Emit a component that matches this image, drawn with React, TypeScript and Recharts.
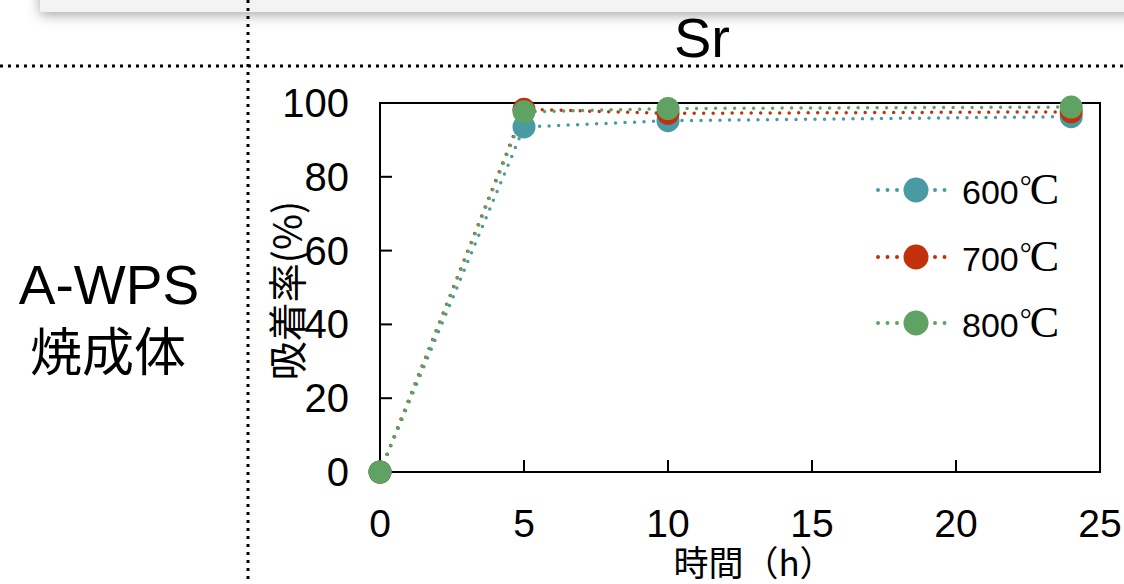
import React from "react";
import { LineChart, Line, XAxis, YAxis, ReferenceArea, Legend } from "recharts";

// adsorption rate (%) of Sr over time, A-WPS fired at 3 temperatures
const hours = [0, 5, 10, 24];
const rate600 = [0, 93.5, 95.2, 96.3];
const rate700 = [0, 98.3, 97.2, 97.6];
const rate800 = [0, 97.6, 98.5, 98.9];
const seriesNames = ["600℃", "700℃", "800℃"];
const seriesColors = ["#4a9aa4", "#c3300c", "#5fa263"];
const xTicks = [0, 5, 10, 15, 20, 25];
const yTicks = [0, 20, 40, 60, 80, 100];

const data = hours.map((t, i) => ({
  t,
  s600: rate600[i],
  s700: rate700[i],
  s800: rate800[i],
}));

const sans = '"Liberation Sans", Arial, sans-serif';
const serif = '"Liberation Serif", "Times New Roman", serif';
const cjk = '"Noto Sans CJK JP", "Liberation Sans", sans-serif';

const XTick = (props: any) => {
  const { x, y, payload } = props;
  const v = payload.value;
  return (
    <g>
      {v !== 0 && v !== 25 && (
        <line x1={x} y1={y} x2={x} y2={y - 12} stroke="#000" strokeWidth={2} />
      )}
      <text x={x} y={y + 65} textAnchor="middle" fontSize={39} fontFamily={sans} fill="#000">
        {v}
      </text>
    </g>
  );
};

const YTick = (props: any) => {
  const { x, y, payload } = props;
  const v = payload.value;
  return (
    <g>
      {v !== 0 && v !== 100 && (
        <line x1={x} y1={y} x2={x + 12} y2={y} stroke="#000" strokeWidth={2} />
      )}
      <text x={x - 31} y={y + 14} textAnchor="end" fontSize={40} fontFamily={sans} fill="#000">
        {v}
      </text>
    </g>
  );
};

const LegendBox = ({ payload }: any) => (
  <div style={{ display: "flex", flexDirection: "column" }}>
    {(payload || []).map((p: any) => {
      const label = String(p.value);
      return (
        <div key={label} style={{ height: 66.5, display: "flex", alignItems: "center" }}>
          <svg width={90} height={30} style={{ flex: "none" }}>
            <line
              x1={6}
              y1={15}
              x2={76}
              y2={15}
              stroke={p.color}
              strokeWidth={4}
              strokeDasharray="0 9.5"
              strokeLinecap="round"
            />
            <circle cx={44} cy={15} r={12.5} fill={p.color} />
          </svg>
          <span style={{ fontFamily: sans, fontSize: 34, color: "#000", lineHeight: 1, whiteSpace: "nowrap" }}>
            {label.replace("℃", "")}
            <span style={{ fontFamily: serif, fontSize: 30, verticalAlign: "8px", marginLeft: 1 }}>°</span>
            <span style={{ fontFamily: serif, fontSize: 44, fontWeight: 300, marginLeft: -2 }}>C</span>
          </span>
        </div>
      );
    })}
  </div>
);

const XTitle = (props: any) => {
  const vb = props.viewBox || { x: 380, y: 472, width: 720 };
  return (
    <text x={vb.x + vb.width / 2 + 14} y={vb.y + 104} textAnchor="middle" fontSize={35} fontFamily={cjk} fill="#000">
      時間（h）
    </text>
  );
};

const YTitle = (props: any) => {
  const vb = props.viewBox || { x: 280, y: 103, height: 369 };
  const cx = vb.x + 5;
  const cy = vb.y + vb.height / 2 + 3;
  return (
    <text
      x={cx}
      y={cy}
      textAnchor="middle"
      dominantBaseline="central"
      transform={`rotate(-90, ${cx}, ${cy})`}
      fontSize={39}
      fontFamily={cjk}
      fill="#000"
    >
      吸着率(%)
    </text>
  );
};

export default function App() {
  return (
    <div style={{ position: "absolute", left: 0, top: 0, width: 1124, height: 584, background: "#fff", overflow: "hidden" }}>
      {/* card edge with shadow at the top */}
      <div
        style={{
          position: "absolute",
          left: 40,
          top: -40,
          width: 1120,
          height: 52,
          background: "#f3f3f3",
          boxShadow: "0 3px 12px rgba(0,0,0,0.35)",
        }}
      />
      <svg width={1124} height={584} style={{ position: "absolute", left: 0, top: 0 }}>
        <line x1={248} y1={0} x2={248} y2={584} stroke="#000" strokeWidth={3} strokeDasharray="3 5" />
        <line x1={0} y1={66} x2={1124} y2={66} stroke="#000" strokeWidth={3} strokeDasharray="3 5" />
        <text x={702} y={57} textAnchor="middle" fontSize={56} fontFamily={sans} fill="#000">
          Sr
        </text>
        <text x={109} y={304} textAnchor="middle" fontSize={55} fontFamily={sans} fill="#000">
          A-WPS
        </text>
        <text x={108} y={371} textAnchor="middle" fontSize={52} fontFamily={cjk} fill="#000">
          焼成体
        </text>
      </svg>
      <div style={{ position: "absolute", left: 0, top: 0 }}>
        <LineChart width={1124} height={584} data={data} margin={{ top: 103, right: 24, left: 280, bottom: 2 }}>
          <XAxis
            dataKey="t"
            type="number"
            domain={[0, 25]}
            ticks={xTicks}
            interval={0}
            height={110}
            tickSize={0}
            tickMargin={0}
            tickLine={false}
            axisLine={{ stroke: "#000", strokeWidth: 2 }}
            tick={<XTick />}
            label={<XTitle />}
          />
          <YAxis
            type="number"
            domain={[0, 100]}
            ticks={yTicks}
            interval={0}
            width={100}
            tickSize={0}
            tickMargin={0}
            tickLine={false}
            axisLine={{ stroke: "#000", strokeWidth: 2 }}
            tick={<YTick />}
            label={<YTitle />}
          />
          <ReferenceArea x1={0} x2={25} y1={0} y2={100} fill="none" stroke="#000" strokeWidth={2} />
          <Legend
            layout="vertical"
            align="center"
            verticalAlign="middle"
            wrapperStyle={{ left: 872, top: 157, width: 240 }}
            content={<LegendBox />}
          />
          {["s600", "s700", "s800"].map((key, i) => (
            <Line
              key={key}
              type="linear"
              dataKey={key}
              name={seriesNames[i]}
              stroke={seriesColors[i]}
              strokeWidth={3.5}
              strokeDasharray="0 9.5"
              strokeLinecap="round"
              dot={{ r: 11.5, fill: seriesColors[i], stroke: "none" }}
              activeDot={false}
              isAnimationActive={false}
            />
          ))}
        </LineChart>
      </div>
    </div>
  );
}
